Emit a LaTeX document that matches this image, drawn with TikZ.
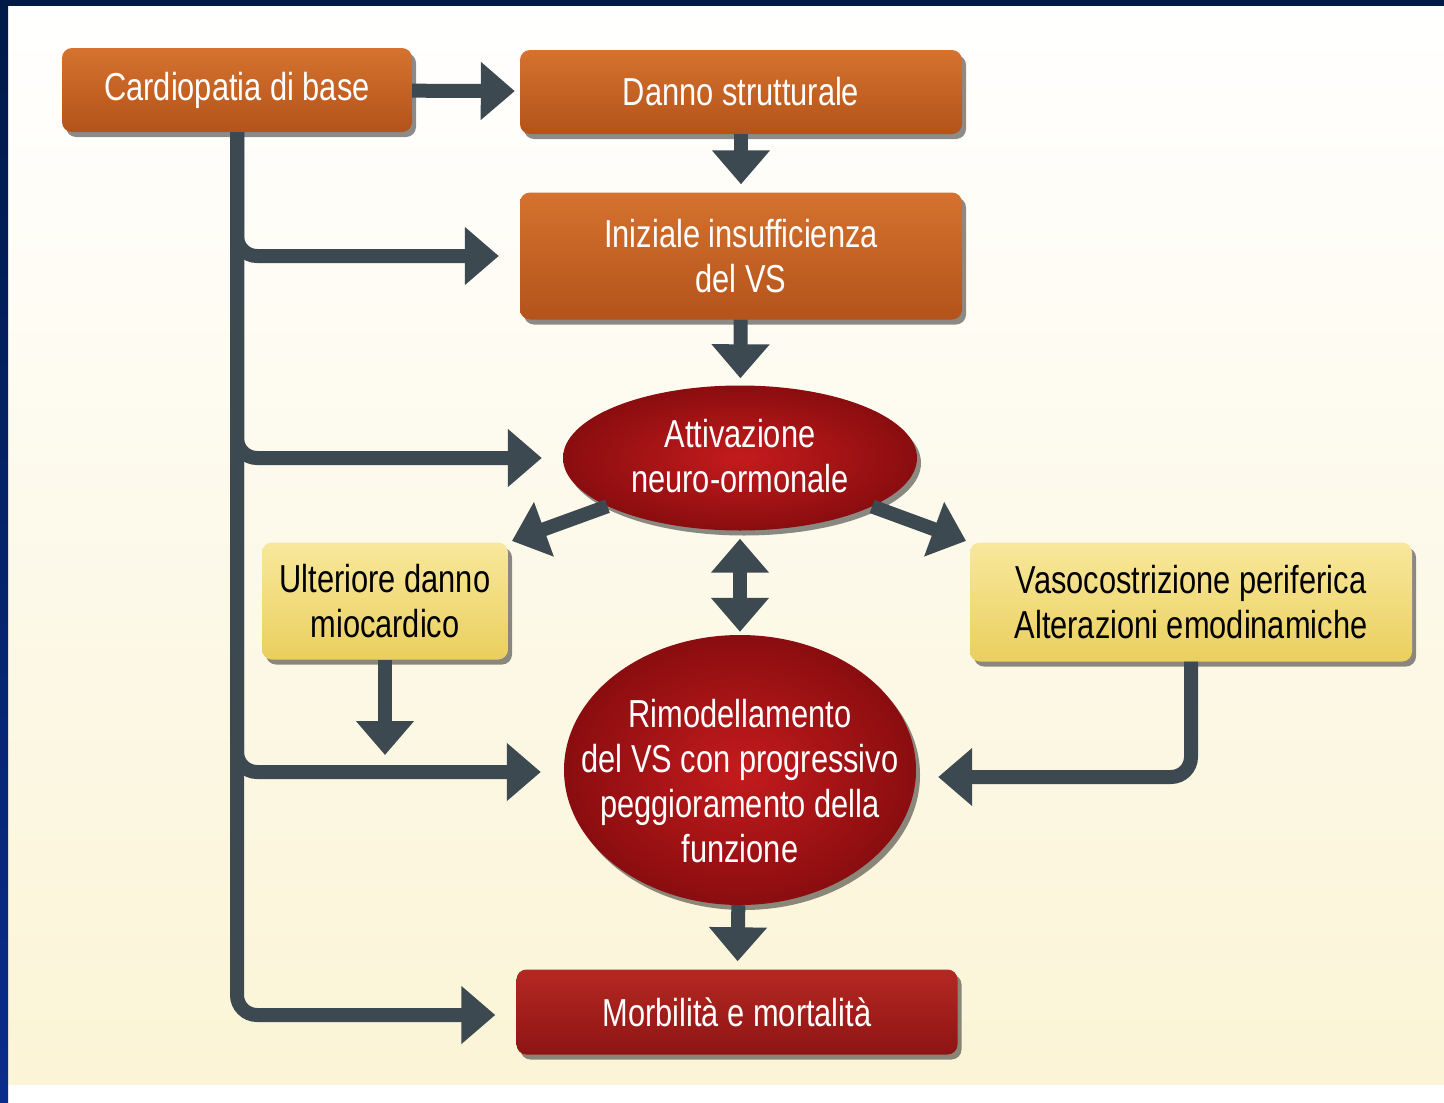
\documentclass[tikz,border=0pt]{standalone}
\usepackage{fontspec}
\setmainfont{Liberation Sans}[FakeStretch=0.79]
\usetikzlibrary{arrows.meta,shapes.geometric,shadows}
\definecolor{arrgray}{HTML}{3D4951}
\definecolor{navy}{HTML}{001A48}
\definecolor{framebot}{HTML}{0A2C8C}
\definecolor{cream}{HTML}{FBF4D6}
\definecolor{orangetop}{HTML}{D5722F}
\definecolor{orangebot}{HTML}{B4531A}
\definecolor{redin}{HTML}{C41B1D}
\definecolor{redout}{HTML}{8A0D0F}
\definecolor{redtop}{HTML}{B52822}
\definecolor{redbot}{HTML}{8E1414}
\definecolor{yellowtop}{HTML}{F8E89C}
\definecolor{yellowbot}{HTML}{EACF5E}

\begin{document}
\begin{tikzpicture}[x=1pt,y=-1pt,
  >={Triangle[width=56pt,length=34pt]},
  every node/.style={font=\fontsize{39}{45}\selectfont,align=center,inner sep=0pt},
  boxshadow/.style={drop shadow={shadow xshift=4pt,shadow yshift=-5pt,opacity=.45,fill=black}},
  orangebox/.style={rectangle,rounded corners=10pt,top color=orangetop,bottom color=orangebot,text=white,boxshadow},
  redblob/.style={ellipse,inner color=redin,outer color=redout,boxshadow},
  redbox/.style={rectangle,rounded corners=10pt,top color=redtop,bottom color=redbot,text=white,boxshadow},
  yellowbox/.style={rectangle,rounded corners=10pt,top color=yellowtop,bottom color=yellowbot,text=black,boxshadow},
  arr/.style={->,draw=arrgray,line width=14pt}]
  \useasboundingbox (0,0) rectangle (1444,1103);
  \shade[top color=white,bottom color=cream] (0,0) rectangle (1444,1085);
  \fill[white] (0,1085) rectangle (1444,1103);
  \fill[navy] (0,0) rectangle (1444,6);
  \shade[top color=navy,bottom color=framebot] (0,0) rectangle (8,1103);

  \node[orangebox,minimum width=350pt,minimum height=84pt] at (237,90) (card) {Cardiopatia di base};
  \node[orangebox,minimum width=442pt,minimum height=84pt] at (741,92) (danno) {Danno strutturale};
  \node[orangebox,minimum width=442pt,minimum height=127pt] at (741,256) (iniz) {Iniziale insufficienza\\del VS};
  \node[redblob,minimum width=354pt,minimum height=145pt] at (740,458) (attiv) {};
  \node[text=white] at (740,456) (attivtext) {Attivazione\\neuro-ormonale};
  \node[yellowbox,minimum width=246pt,minimum height=117pt] at (385,601) (ulter) {Ulteriore danno\\miocardico};
  \node[yellowbox,minimum width=442pt,minimum height=119pt] at (1191,602) (vaso) {Vasocostrizione periferica\\Alterazioni emodinamiche};
  \node[redblob,minimum width=352pt,minimum height=270pt] at (740,770) (rimod) {};
  \node[text=white] at (740,781) (rimodtext) {Rimodellamento\\del VS con progressivo\\peggioramento della\\funzione};
  \node[redbox,minimum width=441pt,minimum height=85pt] at (737,1012) (morb) {Morbilità e mortalità};
  \coordinate (ulterend) at (385,755);

  \draw[arr,shorten >=5pt] (card) -- (danno);
  \draw[arr,shorten >=8pt] (danno) -- (iniz);
  \draw[arr,shorten >=7pt] (iniz) -- (attiv);
  \draw[arr,rounded corners=20pt,shorten >=21pt] (card.south) |- (iniz.west);
  \draw[arr,rounded corners=20pt,shorten >=21pt] (card.south) |- (attiv.west);
  \draw[arr,rounded corners=20pt,shorten >=23pt] (card.south) |- ([yshift=-2pt]rimod.west);
  \draw[arr,rounded corners=20pt,shorten >=21pt] (card.south) |- ([yshift=-3pt]morb.west);
  \draw[arr,shorten >=4pt] (attiv) -- (ulter.north east);
  \draw[arr,shorten >=4pt] (attiv) -- (vaso.north west);
  \draw[arr,<->,shorten <=8pt,shorten >=3pt] (attiv) -- (rimod);
  \draw[arr] (ulter) -- (ulterend);
  \draw[arr,rounded corners=20pt,shorten >=22pt] (vaso.south) |- ([yshift=-7pt]rimod.east);
  \draw[arr,shorten >=8pt] (rimod) -- (morb);
\end{tikzpicture}
\end{document}
